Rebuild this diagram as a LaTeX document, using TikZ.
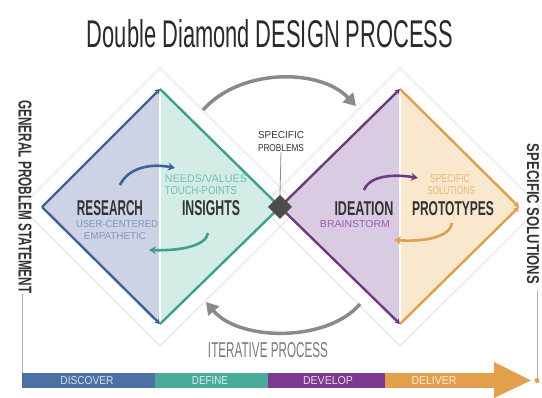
\documentclass[tikz,border=0pt]{standalone}
\usepackage{fontspec}
\usepackage{graphicx}
\setmainfont{Liberation Sans}
\usetikzlibrary{arrows.meta}
\definecolor{cBlue}{HTML}{3F6296}
\definecolor{cTeal}{HTML}{3FA08F}
\definecolor{cPurp}{HTML}{6E3A80}
\definecolor{cOran}{HTML}{DDA04E}
\definecolor{fBlue}{HTML}{CDD3E5}
\definecolor{fTeal}{HTML}{D4ECE6}
\definecolor{fPurp}{HTML}{D9CBE2}
\definecolor{fOran}{HTML}{F9E7CE}
\definecolor{barBlue}{HTML}{4B72A3}
\definecolor{barTeal}{HTML}{4AAB98}
\definecolor{barPurp}{HTML}{7B3A8D}
\definecolor{barOran}{HTML}{E3A04C}
\definecolor{txtDark}{HTML}{333333}
\definecolor{arcGray}{HTML}{8A8A8A}
\newcommand\fb[3]{\resizebox{#1pt}{#2pt}{#3}}
\tikzset{
  lbl/.style={inner sep=0pt, outer sep=0pt},
  edgeline/.style={line width=2.4pt, -{Stealth[length=5pt,width=6pt]}},
  loopar/.style={line width=2.6pt, -{Stealth[length=7pt,width=8pt]}},
  bigarc/.style={arcGray, line width=3.5pt, -{Triangle[length=12pt,width=14pt]}},
  outerd/.style={draw=black!8, line width=1.6pt},
  vline/.style={draw=black!45, line width=0.8pt}
}
\begin{document}
\begin{tikzpicture}[x=1pt,y=-1pt]
\useasboundingbox (0,0) rectangle (542,398);
% key points
\coordinate (L1) at (42,207);
\coordinate (T1) at (160,89);
\coordinate (B1) at (160,324);
\coordinate (J) at (280,207);
\coordinate (T2) at (400,89);
\coordinate (B2) at (400,324);
\coordinate (R2) at (519,207);
% faint outer diamonds
\draw[outerd] (160,68) -- (300,207) -- (160,346) -- (21,207) -- cycle;
\draw[outerd] (400,68) -- (540,207) -- (400,346) -- (261,207) -- cycle;
% fills
\fill[fBlue] (L1) -- (T1) -- (B1) -- cycle;
\fill[fTeal] (T1) -- (J) -- (B1) -- cycle;
\fill[fPurp] (J) -- (T2) -- (B2) -- cycle;
\fill[fOran] (T2) -- (R2) -- (B2) -- cycle;
\draw[white, line width=2pt] (T1) -- (B1);
\draw[white, line width=2pt] (T2) -- (B2);
% edges
\draw[edgeline, cBlue] (L1) -- (T1);
\draw[edgeline, cBlue] (L1) -- (B1);
\draw[edgeline, cTeal] (T1) -- (J);
\draw[edgeline, cTeal] (B1) -- (J);
\draw[edgeline, cPurp] (J) -- (T2);
\draw[edgeline, cPurp] (J) -- (B2);
\draw[edgeline, cOran] (T2) -- (R2);
\draw[edgeline, cOran] (B2) -- (R2);
% centre junction
\node[lbl] (spec) at (281,142) {\shortstack{\fb{46}{7}{\color{txtDark}SPECIFIC}\\[3pt]\fb{46}{7}{\color{txtDark}PROBLEMS}}};
\fill[black!70] (280,195) -- (292,207) -- (280,219) -- (268,207) -- cycle;
\coordinate (jtop) at (280,195);
\draw[vline] (spec.south) -- (jtop);
% big iterative arcs
\coordinate (a1s) at (203,110);
\coordinate (a1e) at (356,106);
\draw[bigarc] (a1s) .. controls (240,68) and (320,68) .. (a1e);
\coordinate (a2s) at (360,304);
\coordinate (a2e) at (206,302);
\draw[bigarc] (a2s) .. controls (328,342) and (240,342) .. (a2e);
% texts left diamond
\node[lbl] (research) at (110,208) {\fb{66}{15}{\color{txtDark}\bfseries RESEARCH}};
\node[lbl] (insights) at (211,208) {\fb{58}{15}{\color{txtDark}\bfseries INSIGHTS}};
\node[lbl] (user) at (117,224) {\fb{82}{7}{\color[HTML]{7E95C2}USER-CENTERED}};
\node[lbl] (emp) at (115,236) {\fb{62}{7}{\color[HTML]{7E95C2}EMPATHETIC}};
\node[lbl] (needs) at (206,179) {\fb{82}{8}{\color[HTML]{6FC0B2}NEEDS/VALUES}};
\node[lbl] (touch) at (201,191) {\fb{72}{8}{\color[HTML]{6FC0B2}TOUCH-POINTS}};
% texts right diamond
\node[lbl] (ideation) at (364,209) {\fb{59}{14}{\color{txtDark}\bfseries IDEATION}};
\node[lbl] (proto) at (453,209) {\fb{82}{14}{\color{txtDark}\bfseries PROTOTYPES}};
\node[lbl] (brain) at (355,224) {\fb{70}{7}{\color[HTML]{9C5CAE}BRAINSTORM}};
\node[lbl] (ssol1) at (450,179) {\fb{40}{8}{\color[HTML]{EBB676}SPECIFIC}};
\node[lbl] (ssol2) at (451,191) {\fb{48}{8}{\color[HTML]{EBB676}SOLUTIONS}};
% inner loop arrows
\coordinate (p1) at (120,185); \coordinate (p2) at (175,168);
\draw[loopar, cBlue] (p1) .. controls (128,168) and (150,163) .. (p2);
\coordinate (p3) at (208,233); \coordinate (p4) at (149,250);
\draw[loopar, cTeal] (p3) .. controls (206,246) and (180,251) .. (p4);
\coordinate (p5) at (364,190); \coordinate (p6) at (418,178);
\draw[loopar, cPurp] (p5) .. controls (370,175) and (395,174) .. (p6);
\coordinate (p7) at (452,223); \coordinate (p8) at (394,240);
\draw[loopar, cOran] (p7) .. controls (450,237) and (425,242) .. (p8);
% side labels
\node[lbl, rotate=-90] (gps) at (25,197) {\fb{193}{13}{\color{txtDark}\bfseries GENERAL PROBLEM STATEMENT}};
\node[lbl, rotate=-90] (ss) at (533,214) {\fb{140}{12}{\color{txtDark}\bfseries SPECIFIC SOLUTIONS}};
\coordinate (gl1) at (22,294); \coordinate (gl2) at (22,374);
\draw[vline, black!30] (gl1) -- (gl2);
\coordinate (sl1) at (537,290); \coordinate (sl2) at (537,380);
\draw[vline, black!30] (sl1) -- (sl2);
% iterative label
\node[lbl] (iter) at (268,350) {\fb{120}{15}{\color[HTML]{7A7A7A}ITERATIVE PROCESS}};
% bottom bar
\fill[barBlue] (22,373) rectangle (155,388);
\fill[barTeal] (155,373) rectangle (268,388);
\fill[barPurp] (268,373) rectangle (385,388);
\fill[barOran] (385,373) rectangle (496,388);
\fill[barOran] (494,362) -- (531,380.5) -- (494,398) -- cycle;
\fill[barOran] (537,380.5) circle (2.5);
\node[lbl] (disc) at (87,381) {\fb{53}{8}{\color[HTML]{D6E0F0}DISCOVER}};
\node[lbl] (defi) at (210,381) {\fb{36}{8}{\color[HTML]{D6F0EA}DEFINE}};
\node[lbl] (deve) at (328,381) {\fb{50}{8}{\color[HTML]{EAD6F0}DEVELOP}};
\node[lbl] (deli) at (434,381) {\fb{45}{8}{\color[HTML]{FBEBD6}DELIVER}};
% title
\node[lbl] (title) at (270,34) {\fb{366}{28}{\color[HTML]{2A2A2A}Double Diamond DESIGN PROCESS}};
\end{tikzpicture}
\end{document}
